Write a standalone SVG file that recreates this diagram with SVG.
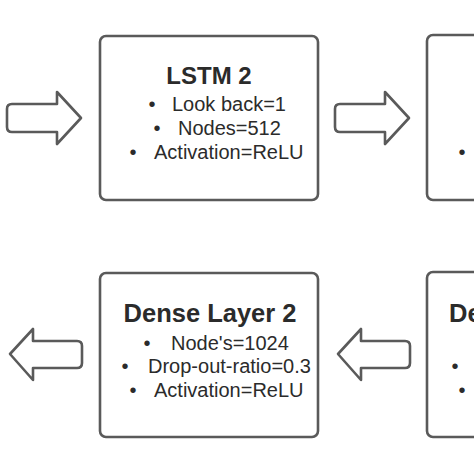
<svg xmlns="http://www.w3.org/2000/svg" width="474" height="474" viewBox="0 0 474 474">
<defs>
<style>
.box{fill:#fff;stroke:#5a5a5a;stroke-width:2.6}
.arr{fill:#fff;stroke:#5a5a5a;stroke-width:2.6;stroke-linejoin:round}
.t{font-family:"Liberation Sans",Arial,sans-serif;fill:#2b2b2b}
.h{font-weight:bold}
.b{font-size:20px}
.bul{font-size:20px;text-anchor:middle}
</style>
<path id="arrR" class="arr" d="M12,104 L57,104 L57,92 L81,118 L57,144 L57,132 L12,132 Q7,132 7,127 L7,109 Q7,104 12,104 Z"/>
<path id="arrL" class="arr" d="M10,354 L33,329 L33,341 L77,341 Q82,341 82,346 L82,363 Q82,368 77,368 L33,368 L33,380 Z"/>
</defs>
<rect width="474" height="474" fill="#fff"/>
<g id="connectors">
<use href="#arrR"/>
<use href="#arrR" transform="translate(328,0)"/>
<use href="#arrL"/>
<use href="#arrL" transform="translate(328,0)"/>
</g>
<g id="lstm2">
<rect class="box" x="100" y="36" width="218" height="164" rx="6"/>
<text class="t h" x="209" y="84" font-size="24" text-anchor="middle">LSTM 2</text>
<text class="t bul" x="152" y="111">•</text><text class="t b" x="172" y="111">Look back=1</text>
<text class="t bul" x="157" y="135">•</text><text class="t b" x="178" y="135">Nodes=512</text>
<text class="t bul" x="133" y="159">•</text><text class="t b" x="154" y="159">Activation=ReLU</text>
</g>
<g id="next-top">
<rect class="box" x="427" y="35" width="100" height="165" rx="6"/>
<text class="t bul" x="462" y="159">•</text>
</g>
<g id="dense2">
<rect class="box" x="100" y="273" width="218" height="164" rx="6"/>
<text class="t h" x="210" y="322" font-size="25.5" text-anchor="middle">Dense Layer 2</text>
<text class="t bul" x="147" y="350">•</text><text class="t b" x="171" y="350">Node's=1024</text>
<text class="t bul" x="125" y="373">•</text><text class="t b" x="148" y="373">Drop-out-ratio=0.3</text>
<text class="t bul" x="133" y="397">•</text><text class="t b" x="154" y="397">Activation=ReLU</text>
</g>
<g id="dense-next">
<rect class="box" x="427" y="272" width="100" height="165" rx="6"/>
<text class="t h" x="449" y="322" font-size="25.5">De</text>
<text class="t bul" x="455" y="373">•</text>
<text class="t bul" x="462" y="397">•</text>
</g>
</svg>
